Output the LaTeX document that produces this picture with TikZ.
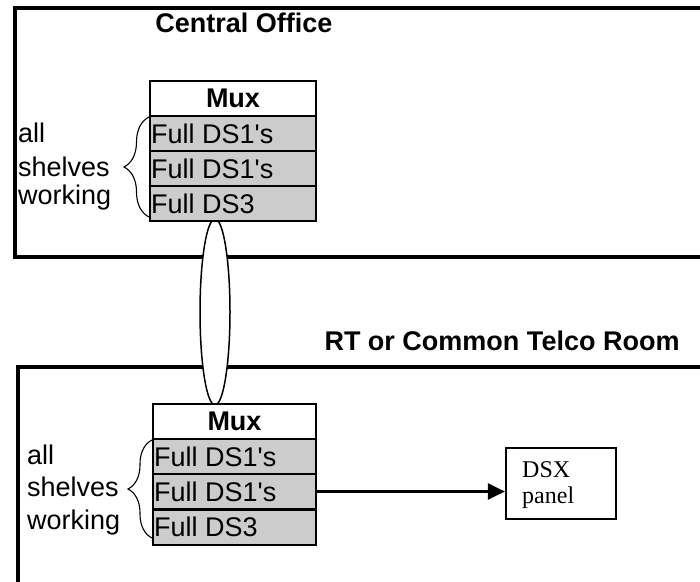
\documentclass[tikz,border=0pt]{standalone}
\usepackage{fontspec}
\setmainfont{Liberation Sans}
\newfontfamily\serifface{Liberation Serif}
\usetikzlibrary{arrows.meta,decorations.pathreplacing}
\begin{document}
\begin{tikzpicture}[x=1pt,y=-1pt,
  room/.style={line width=3.2pt},
  title/.style={font=\fontsize{27}{30}\selectfont\bfseries, inner sep=0pt},
  lbl/.style={font=\fontsize{27}{30}\selectfont, inner sep=0pt, anchor=west},
  muxhead/.style={draw, line width=2pt, fill=white, minimum width=166pt, minimum height=35pt, inner sep=0pt, font=\fontsize{27}{30}\selectfont\bfseries},
  shelf/.style={draw, line width=2pt, fill=black!20, minimum width=166pt, minimum height=35pt, inner sep=0pt},
  shelftext/.style={font=\fontsize{27}{30}\selectfont, inner sep=0pt, anchor=west},
  bracestyle/.style={decorate, decoration={brace, amplitude=25pt}, line width=1.1pt},
  dsxbox/.style={draw, line width=2.2pt, minimum width=110pt, minimum height=71pt, inner sep=0pt},
  link/.style={line width=2.3pt, -{Triangle[length=17pt,width=16pt]}}
]
\useasboundingbox (0,0) rectangle (700,581);

% rooms
\coordinate (coTR) at (703,8);
\coordinate (coTL) at (15,8);
\coordinate (coBL) at (15,257);
\coordinate (coBR) at (703,257);
\draw[room] (coTR) -- (coTL) -- (coBL) -- (coBR);
\coordinate (rtTR) at (703,367);
\coordinate (rtTL) at (18,367);
\coordinate (rtBL) at (18,585);
\draw[room] (rtTR) -- (rtTL) -- (rtBL);

\node[title] (cotitle) at (244,23) {Central Office};
\node[title] (rttitle) at (502,341) {RT or Common Telco Room};

% link ellipse
\draw[line width=1.5pt, fill=white] (215,312) ellipse [x radius=15, y radius=93];

% top mux
\node[muxhead] (tmux) at (233,98.5) {Mux};
\node[shelf] (tr1) at (233,133.5) {};
\node[shelf] (tr2) at (233,168.5) {};
\node[shelf] (tr3) at (233,203.5) {};
\node[shelftext] at (151,133.5) {Full DS1\textquotesingle s};
\node[shelftext] at (151,168.5) {Full DS1\textquotesingle s};
\node[shelftext] at (151,203.5) {Full DS3};
\draw[bracestyle] (149,217) -- (149,117);
\node[lbl] (ta) at (18,133) {all};
\node[lbl] (ts) at (18,167) {shelves};
\node[lbl] (tw) at (18,198) {working};

% bottom mux
\node[muxhead, minimum width=163pt] (bmux) at (234.5,421) {Mux};
\node[shelf, minimum width=163pt] (br1) at (234.5,456.5) {};
\node[shelf, minimum width=163pt] (br2) at (234.5,491.5) {};
\node[shelf, minimum width=163pt] (br3) at (234.5,527) {};
\node[shelftext] at (154,456.5) {Full DS1\textquotesingle s};
\node[shelftext] at (154,491.5) {Full DS1\textquotesingle s};
\node[shelftext] at (154,527) {Full DS3};
\draw[bracestyle, decoration={amplitude=24pt}] (152,538) -- (152,440);
\node[lbl] (ba) at (27,455) {all};
\node[lbl] (bs) at (27,487) {shelves};
\node[lbl] (bw) at (27,523) {working};

% DSX panel
\node[dsxbox] (dsx) at (561,483.5) {};
\node[font=\serifface\fontsize{24}{26}\selectfont, align=left, anchor=west, inner sep=0pt] (dsxt) at (522,485) {DSX\\panel};

\draw[link] (br2.east) -- (br2.east -| dsx.west);
\end{tikzpicture}
\end{document}
